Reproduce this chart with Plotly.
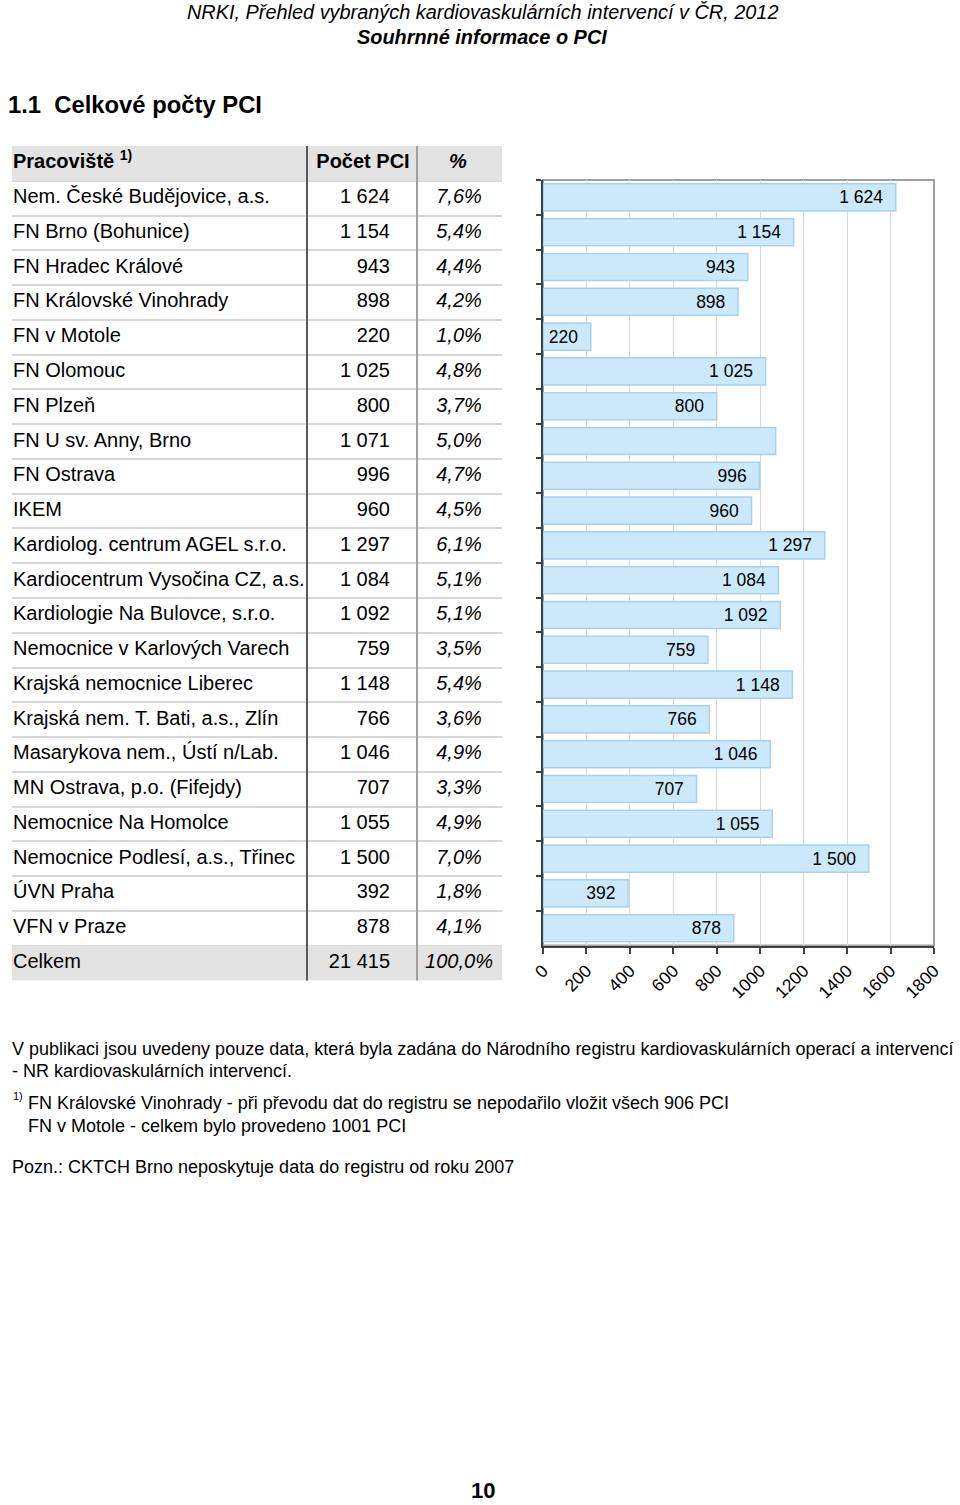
import plotly.graph_objects as go

# ---------------- data ----------------
hospitals = [
    "Nem. České Budějovice, a.s.", "FN Brno (Bohunice)", "FN Hradec Králové",
    "FN Královské Vinohrady", "FN v Motole", "FN Olomouc", "FN Plzeň",
    "FN U sv. Anny, Brno", "FN Ostrava", "IKEM", "Kardiolog. centrum AGEL s.r.o.",
    "Kardiocentrum Vysočina CZ, a.s.", "Kardiologie Na Bulovce, s.r.o.",
    "Nemocnice v Karlových Varech", "Krajská nemocnice Liberec",
    "Krajská nem. T. Bati, a.s., Zlín", "Masarykova nem., Ústí n/Lab.",
    "MN Ostrava, p.o. (Fifejdy)", "Nemocnice Na Homolce",
    "Nemocnice Podlesí, a.s., Třinec", "ÚVN Praha", "VFN v Praze",
]
pci_counts = [1624, 1154, 943, 898, 220, 1025, 800, 1071, 996, 960, 1297,
              1084, 1092, 759, 1148, 766, 1046, 707, 1055, 1500, 392, 878]
pci_percent = [7.6, 5.4, 4.4, 4.2, 1.0, 4.8, 3.7, 5.0, 4.7, 4.5, 6.1,
               5.1, 5.1, 3.5, 5.4, 3.6, 4.9, 3.3, 4.9, 7.0, 1.8, 4.1]
total_label = "Celkem"
total_count = 21415
total_percent = 100.0
table_headers = ["Pracoviště <sup>1)</sup>", "Počet PCI", "<i>%</i>"]
unlabelled_bars = ["FN U sv. Anny, Brno"]   # label missing in the original
x_ticks = [0, 200, 400, 600, 800, 1000, 1200, 1400, 1600, 1800]
# --------------------------------------

FONT = "Liberation Sans, Arial, sans-serif"
W, H = 960, 1505
# horizontal placement of the paper as observed in the rendered page
PX0, PW = 12.0, 939.0
TW = 497            # table width in its own x units (pixels from table left edge)
TABLE_LEFT = 5
COL_EDGES = [302, 412]


def px_x(p):
    return (p - PX0) / PW


def px_y(p):
    return 1 - p / H


def fmt_int(v):
    return f"{v:,}".replace(",", " ")


def fmt_pct(v):
    return f"<i>{v:.1f}%</i>".replace(".", ",")


n_rows = len(hospitals) + 2            # header + data + total
row_idx = list(range(n_rows))
col1 = hospitals + [total_label]
col2 = [fmt_int(v) for v in pci_counts] + [fmt_int(total_count)]
col3 = [fmt_pct(v) for v in pci_percent] + [fmt_pct(total_percent)]
body_rows = row_idx[1:]

fig = go.Figure()

# grey background of header and total rows
fig.add_trace(go.Bar(
    x=[TW, TW], y=[0, n_rows - 1], base=0, width=1, orientation="h",
    marker=dict(color="#e3e3e3", line=dict(width=0)),
    xaxis="x2", yaxis="y2", hoverinfo="skip", showlegend=False,
))
TF = dict(family=FONT, size=20, color="black")
# header texts
fig.add_trace(go.Scatter(
    x=[8, 358, 453], y=[0, 0, 0], mode="text",
    text=[f"<b>{h}</b>" for h in table_headers],
    textposition=["middle right", "middle center", "middle center"],
    textfont=TF, xaxis="x2", yaxis="y2", hoverinfo="skip",
    showlegend=False, cliponaxis=False,
))
# column texts
fig.add_trace(go.Scatter(
    x=[8] * len(col1), y=body_rows, mode="text", text=col1,
    textposition="middle right", textfont=TF,
    xaxis="x2", yaxis="y2", hoverinfo="skip", showlegend=False, cliponaxis=False,
))
fig.add_trace(go.Scatter(
    x=[385] * len(col2), y=body_rows, mode="text", text=col2,
    textposition="middle left", textfont=TF,
    xaxis="x2", yaxis="y2", hoverinfo="skip", showlegend=False, cliponaxis=False,
))
fig.add_trace(go.Scatter(
    x=[454] * len(col3), y=body_rows, mode="text", text=col3,
    textposition="middle center", textfont=TF,
    xaxis="x2", yaxis="y2", hoverinfo="skip", showlegend=False, cliponaxis=False,
))

bar_text = ["" if h in unlabelled_bars else fmt_int(v) + "\u00a0\u00a0"
            for h, v in zip(hospitals, pci_counts)]

fig.add_trace(go.Bar(
    x=pci_counts, y=hospitals, orientation="h",
    marker=dict(color="#cce9fb", line=dict(color="#a6d2f2", width=1.5)),
    text=bar_text, textposition="inside", insidetextanchor="end", textangle=0,
    textfont=dict(family=FONT, size=17.5, color="black"),
    hoverinfo="x+y", showlegend=False,
))

t_left = max(0.0, px_x(TABLE_LEFT))
fig.update_layout(
    width=W, height=H, margin=dict(l=0, r=0, t=0, b=0),
    paper_bgcolor="white", plot_bgcolor="rgba(0,0,0,0)",
    font=dict(family=FONT, color="black"),
    bargap=0.22,
    xaxis=dict(
        domain=[px_x(543), px_x(934)], range=[0, 1800], tickvals=x_ticks,
        ticktext=[str(t) for t in x_ticks], tickangle=-45,
        showgrid=True, gridcolor="#d9d9d9", gridwidth=1,
        showline=True, linecolor="#404040", linewidth=2,
        ticks="outside", ticklen=6, tickcolor="#404040", tickwidth=2,
        tickfont=dict(family=FONT, size=17.5, color="black"), zeroline=False,
        fixedrange=True,
    ),
    yaxis=dict(
        domain=[px_y(945.6), px_y(180)], autorange="reversed",
        type="category", showticklabels=False, showgrid=False,
        showline=True, linecolor="#404040", linewidth=2,
        ticks="outside", tickson="boundaries", ticklen=5, tickcolor="#404040",
        tickwidth=2, zeroline=False, fixedrange=True,
    ),
    xaxis2=dict(
        domain=[t_left, px_x(TABLE_LEFT + TW)],
        range=[PX0 + t_left * PW - TABLE_LEFT, TW], anchor="y2",
        showgrid=False, showline=False, showticklabels=False, ticks="",
        zeroline=False, fixedrange=True,
    ),
    yaxis2=dict(
        domain=[px_y(980.4), px_y(146)], range=[n_rows - 0.5, -0.5], anchor="x2",
        tickvals=[i + 0.5 for i in range(n_rows - 1)],
        showgrid=True, gridcolor="#d6d6d6", gridwidth=2,
        showline=False, showticklabels=False, ticks="",
        zeroline=False, fixedrange=True,
    ),
)

shapes = [
    dict(type="rect", xref="x domain", yref="y domain", x0=0, x1=1, y0=0, y1=1,
         line=dict(color="#a0a0a0", width=2), layer="below"),
    dict(type="line", xref="x2", yref="y2 domain", x0=COL_EDGES[0], x1=COL_EDGES[0],
         y0=0, y1=1, line=dict(color="#595959", width=2)),
    dict(type="line", xref="x2", yref="y2 domain", x0=COL_EDGES[1], x1=COL_EDGES[1],
         y0=0, y1=1, line=dict(color="#a0a0a0", width=2)),
]
fig.update_layout(shapes=shapes)


def note(text, x, y, size, xanchor="left"):
    fig.add_annotation(text=text, x=px_x(x), y=px_y(y), xref="paper", yref="paper",
                       xanchor=xanchor, yanchor="middle", showarrow=False,
                       font=dict(family=FONT, size=size, color="black"))


note("<i>NRKI, Přehled vybraných kardiovaskulárních intervencí v ČR, 2012</i>", 482, 12, 19.9, "center")
note("<b><i>Souhrnné informace o PCI</i></b>", 482, 37, 19.9, "center")
note("<b>1.1\u00a0 Celkové počty PCI</b>", 6, 104, 23.8)
note("V publikaci jsou uvedeny pouze data, která byla zadána do Národního registru kardiovaskulárních operací a intervencí",
     10, 1049, 18)
note("- NR kardiovaskulárních intervencí.", 10, 1071, 18)
note("1)", 11, 1096, 11)
note("FN Královské Vinohrady - při převodu dat do registru se nepodařilo vložit všech 906 PCI",
     26, 1103, 18)
note("FN v Motole - celkem bylo provedeno 1001 PCI", 26, 1126, 18)
note("Pozn.: CKTCH Brno neposkytuje data do registru od roku 2007", 10, 1167, 18)
note("<b>10</b>", 483, 1490, 22, "center")

fig.write_html("out.html")
